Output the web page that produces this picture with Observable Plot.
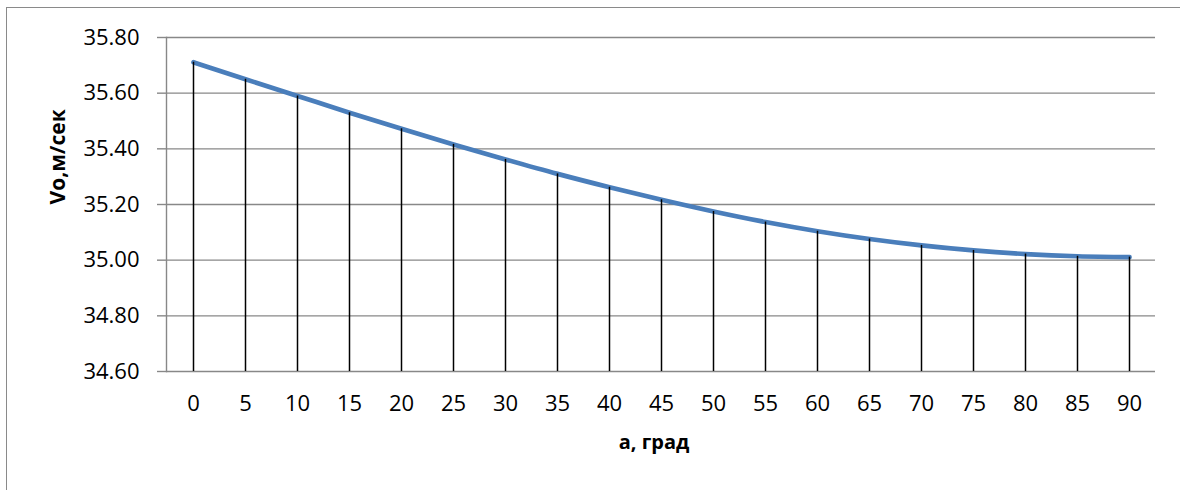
<!DOCTYPE html>
<html>
<head>
<meta charset="utf-8">
<script src="https://cdn.jsdelivr.net/npm/d3@7"></script>
<script src="https://cdn.jsdelivr.net/npm/@observablehq/plot@0.6"></script>
<style>
  html, body { margin: 0; padding: 0; background: #fff; overflow: hidden; }
  #wrap { position: relative; width: 1180px; height: 490px; }
  #border { position: absolute; left: 6px; top: 7px; width: 1200px; height: 520px; border: 1.5px solid #8a8a8a; box-sizing: border-box; pointer-events: none; }
  #chart { position: absolute; left: 0; top: 0; }
</style>
</head>
<body>
<div id="wrap"><div id="border"></div><div id="chart"></div></div>
<script>
const angles = [0, 5, 10, 15, 20, 25, 30, 35, 40, 45, 50, 55, 60, 65, 70, 75, 80, 85, 90];
const vo = [35.711, 35.650, 35.590, 35.530, 35.472, 35.416, 35.362, 35.310, 35.262, 35.217, 35.175, 35.137, 35.104, 35.076, 35.053, 35.035, 35.022, 35.014, 35.011];
const yTicks = [34.6, 34.8, 35.0, 35.2, 35.4, 35.6, 35.8];
const xTitle = "a, град";
const yTitle = "Vo,м/сек";

const data = angles.map((a, i) => ({a, v: vo[i]}));

const chart = Plot.plot({
  width: 1180,
  height: 490,
  marginLeft: 166,
  marginRight: 25,
  marginTop: 37,
  marginBottom: 119,
  style: {fontFamily: "'Open Sans', sans-serif", background: "transparent", overflow: "visible"},
  x: {type: "point", domain: angles, padding: 0.5},
  y: {domain: [34.6, 35.8]},
  marks: [
    Plot.ruleY(yTicks, {stroke: "#888888", strokeWidth: 1.4}),
    Plot.frame({anchor: "left", stroke: "#888888", strokeWidth: 1.4}),
    Plot.axisY({ticks: yTicks, tickFormat: d => d.toFixed(2), tickSize: 9, tickPadding: 18, stroke: "#888888", strokeWidth: 1.4, fill: "#000", fontSize: 22, label: null}),
    Plot.axisX({tickSize: 0, tickPadding: 24, fill: "#000", fontSize: 22, label: null}),
    Plot.line(data, {x: "a", y: "v", stroke: "#4a7ebb", strokeWidth: 4.7, curve: "monotone-x", strokeLinecap: "round"}),
    Plot.ruleX(data, {x: "a", y1: 34.6, y2: "v", stroke: "#000", strokeWidth: 1.5}),
    Plot.text([xTitle], {frameAnchor: "bottom", dy: 77, dx: -7, fontSize: 20, fontWeight: "bold", fill: "#000"}),
    Plot.text([yTitle], {frameAnchor: "left", dx: -108, rotate: -90, fontSize: 21, fontWeight: "bold", fill: "#000"})
  ]
});
document.getElementById("chart").appendChild(chart);
</script>
</body>
</html>
